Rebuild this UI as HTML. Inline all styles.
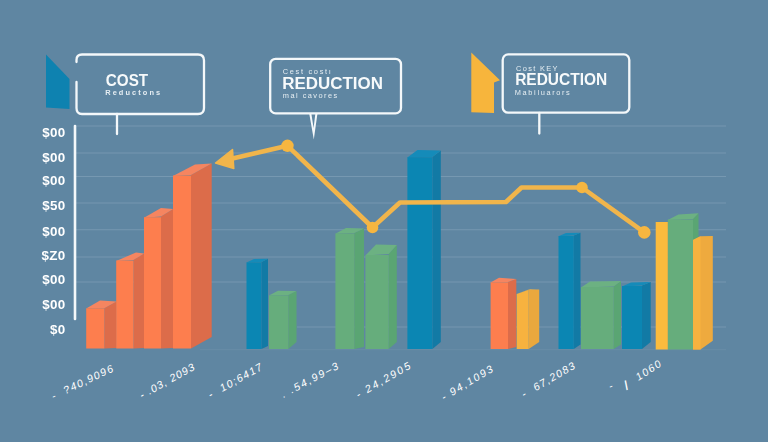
<!DOCTYPE html>
<html><head><meta charset="utf-8">
<style>
html,body{margin:0;padding:0;background:#5f86a2;}
body{width:768px;height:442px;overflow:hidden;font-family:"Liberation Sans",sans-serif;}
svg{display:block;filter:blur(0.55px);}
text{font-family:"Liberation Sans",sans-serif;fill:#fff;}
.yl{font-size:13.4px;font-weight:bold;fill:#f2f6f8;letter-spacing:0.3px;}
.xl{font-size:10.6px;fill:#cfe0ec;font-style:italic;}
.big{font-size:16px;font-weight:bold;fill:#f7fafb;}
.sm{font-size:7.4px;fill:#e6eef3;}
</style></head>
<body>
<svg width="768" height="442" viewBox="0 0 768 442">
<rect width="768" height="442" fill="#5f86a2"/>
<!-- gridlines -->
<g stroke="#86a5bb" stroke-width="1.1" opacity="0.6">
<line x1="76" y1="126" x2="726" y2="126"/>
<line x1="76" y1="153" x2="726" y2="153"/>
<line x1="76" y1="176.5" x2="726" y2="176.5"/>
<line x1="76" y1="203" x2="726" y2="203"/>
<line x1="76" y1="229.8" x2="726" y2="229.8"/>
<line x1="76" y1="257" x2="726" y2="257"/>
<line x1="76" y1="282" x2="726" y2="282"/>
<line x1="297" y1="327" x2="726" y2="327"/>
<line x1="200" y1="349.8" x2="726" y2="349.8" opacity="0.4"/>
</g>
<!-- y axis -->
<line x1="75" y1="126" x2="75" y2="319" stroke="#f4f8fa" stroke-width="2.6" stroke-linecap="round"/>
<!-- y labels -->
<g class="yl" text-anchor="end">
<text x="65.5" y="137">$00</text>
<text x="65.5" y="162">$00</text>
<text x="65.5" y="185">$00</text>
<text x="65.5" y="210">$50</text>
<text x="65.5" y="236">$00</text>
<text x="65.5" y="260.3">$Z0</text>
<text x="65.5" y="284.2">$00</text>
<text x="65.5" y="309.2">$00</text>
<text x="65.5" y="334">$0</text>
</g>

<!-- BARS -->
<g id="bars">
<!-- G1 orange -->
<g>
 <polygon points="104.4,308.3 116.5,301.5 116.5,348 104.4,348.5" fill="#dc6c4a"/>
 <polygon points="86.2,308.5 104.4,308.3 116.5,301.5 100,300.5" fill="#f58560"/>
 <rect x="86.2" y="308.3" width="18.2" height="40.2" fill="#fd7e4e"/>

 <polygon points="133.5,260 144.2,253.5 144.2,348 133.5,348.5" fill="#dc6c4a"/>
 <polygon points="116.2,261 133.5,260 144.2,253.5 136,252.5" fill="#f58560"/>
 <rect x="116.2" y="260.5" width="17.3" height="88" fill="#fd7e4e"/>

 <polygon points="161,216.5 173.2,209 173.2,348 161,348.5" fill="#dc6c4a"/>
 <polygon points="144,217.7 161,216.5 173.2,209 161,208" fill="#f58560"/>
 <rect x="144" y="217.2" width="17" height="131.3" fill="#fd7e4e"/>

 <polygon points="191,175 211.7,163.5 211.7,337 191,348.5" fill="#dc6c4a"/>
 <polygon points="173,176 191,175 211.7,163.5 195,164.6" fill="#f58560"/>
 <rect x="173" y="175.5" width="18" height="173" fill="#fd7e4e"/>
</g>
<!-- G2 blue + green -->
<g>
 <polygon points="261.4,262 268,258.8 268,346 261.4,349" fill="#127aa5"/>
 <polygon points="246.5,262.6 261.4,262 268,258.8 254,259" fill="#158bb9"/>
 <rect x="246.5" y="262.3" width="14.9" height="86.7" fill="#0b86b3"/>

 <polygon points="288.4,295 296.5,291 296.5,342 288.4,349" fill="#5aa573"/>
 <polygon points="269,295.6 288.4,295 296.5,291 278,290.8" fill="#6cb182"/>
 <rect x="269" y="295.3" width="19.4" height="53.7" fill="#66ad7c"/>
</g>
<!-- G3 green + green + big blue -->
<g>
 <polygon points="354.3,233 364,228.5 364,347 354.3,349" fill="#5aa573"/>
 <polygon points="335.4,233.8 354.3,233 364,228.5 346,228" fill="#6cb182"/>
 <rect x="335.4" y="233.4" width="18.9" height="115.6" fill="#66ad7c"/>

 <polygon points="388.7,254 396.8,245 396.8,342 388.7,349" fill="#5aa573"/>
 <polygon points="365.4,255.5 388.7,254 396.8,245 376,244.5" fill="#6cb182"/>
 <rect x="365.4" y="255" width="23.3" height="94" fill="#66ad7c"/>

 <polygon points="432.4,157 440.8,150.5 440.8,342 432.4,349" fill="#127aa5"/>
 <polygon points="407.4,157.5 432.4,157 440.8,150.5 417.5,150" fill="#158bb9"/>
 <rect x="407.4" y="157.2" width="25" height="191.8" fill="#0b86b3"/>
</g>
<!-- G4 orange + yellow -->
<g>
 <polygon points="508,282 516.3,279 516.3,347 508,349" fill="#dc6c4a"/>
 <polygon points="490.6,282.6 508,282 516.3,279 499,277.7" fill="#f58560"/>
 <rect x="490.6" y="282.3" width="17.4" height="66.7" fill="#fd7e4e"/>

 <polygon points="528.7,290 539.2,289.5 539.2,342 528.7,349" fill="#e9a83e"/>
 <polygon points="516.7,294 528.7,289.8 539.2,289.5 530,289" fill="#f3b348"/>
 <polygon points="516.7,294 528.7,289.8 528.7,349 516.7,349" fill="#f7b23f"/>
</g>
<!-- G5 blue, green, blue -->
<g>
 <polygon points="573.8,235.5 580.5,232.8 580.5,344.6 573.8,349" fill="#127aa5"/>
 <polygon points="558.5,236.3 573.8,235.5 580.5,232.8 566,233" fill="#158bb9"/>
 <rect x="558.5" y="236" width="15.3" height="113" fill="#0b86b3"/>

 <polygon points="613.7,286.5 621,281 621,344.6 613.7,349" fill="#5aa573"/>
 <polygon points="581,287.5 613.7,286.5 621,281 590,281.5" fill="#6cb182"/>
 <rect x="581" y="287" width="32.7" height="62" fill="#66ad7c"/>

 <polygon points="642,285.5 650.7,282 650.7,342 642,349" fill="#127aa5"/>
 <polygon points="622,286.5 642,285.5 650.7,282 631,282.5" fill="#158bb9"/>
 <rect x="622" y="286" width="20" height="63" fill="#0b86b3"/>
</g>
<!-- G6 yellow green yellow -->
<g>
 <polygon points="693,219 698.5,213.3 698.5,344 693,349.5" fill="#5aa573"/>
 <polygon points="667.8,220 693,219 698.5,213.3 678.4,214.6" fill="#6cb182"/>
 <rect x="667.8" y="219.5" width="25.2" height="130" fill="#66ad7c"/>
 <rect x="655.7" y="222" width="12.1" height="127.5" fill="#fbbb3d"/>
 <polygon points="693,240 700.5,236.2 712.8,236 712.8,340.7 700.5,349.5 693,349.5" fill="#eeaa3e"/>
 <polygon points="693,240 700.5,236.2 700.5,349.5 693,349.5" fill="#f7b23f"/>
</g>
</g>

<!-- trend line -->
<g fill="none" stroke="#f1b54b" stroke-width="4.6" stroke-linejoin="round" stroke-linecap="round">
<polyline points="226,160 287.5,145.8 372.5,227.5 400,202.5 506,202 521.5,187.5 582,187.5 644.3,232.4"/>
</g>
<polygon points="215.5,163 232.5,149.5 233.8,168.5" fill="#f1b54b" stroke="#f1b54b" stroke-width="1.5" stroke-linejoin="round"/>
<g fill="#f6b640">
<circle cx="287.5" cy="145.8" r="6.2"/>
<circle cx="372.5" cy="227.5" r="5.8"/>
<circle cx="582" cy="187.5" r="5.8"/>
<circle cx="644.3" cy="232.4" r="6.3"/>
</g>

<!-- top-left blue flag -->
<polygon points="46,54.5 69.5,79 69.5,109 46,107.5" fill="#0e82b0"/>
<!-- yellow flag -->
<polygon points="471.3,52.5 500,80.3 494,82.5 494,113 471.3,112.3" fill="#f7b53c"/>

<!-- callout boxes -->
<g fill="none" stroke="#f4f8fa" stroke-width="2.3" stroke-linecap="round">
 <path d="M76.5,62 V60 Q76.5,54.5 82,54.5 H198 Q204,54.5 204,60.5 V108 Q204,114 198,114 H82 Q76.5,114 76.5,108 V82"/>
 <line x1="117" y1="114" x2="117" y2="134"/>
 <rect x="270.2" y="58.8" width="130.8" height="54.6" rx="5.5"/>
 <rect x="502.7" y="54.4" width="126.6" height="58.3" rx="5.5"/>
 <line x1="539.3" y1="113" x2="539.3" y2="133.5"/>
</g>
<path d="M309.3,114 L313.8,139.5 L317.4,114 L315.3,114 L313.6,128 L311.4,114 Z" fill="#f4f8fa"/>

<!-- callout text -->
<text class="big" x="105.8" y="85.9" textLength="42.3" lengthAdjust="spacingAndGlyphs">COST</text>
<text class="sm" x="105.2" y="95.2" textLength="55" lengthAdjust="spacing" font-weight="bold">Reductons</text>

<text class="sm" x="282.8" y="73.8" textLength="48" lengthAdjust="spacing">Cest costı</text>
<text class="big" x="282.3" y="88.8" textLength="100.6" lengthAdjust="spacingAndGlyphs">REDUCTION</text>
<text class="sm" x="282.8" y="97.9" textLength="54.5" lengthAdjust="spacing">mal cavores</text>

<text class="sm" x="516" y="71.1" textLength="41.5" lengthAdjust="spacing">Cost KEY</text>
<text class="big" x="515.2" y="85.3" textLength="92" lengthAdjust="spacingAndGlyphs">REDUCTION</text>
<text class="sm" x="514.8" y="95.3" textLength="55" lengthAdjust="spacing">Mabiluarors</text>

<!-- x labels -->
<g class="xl" lengthAdjust="spacing" xml:space="preserve">
<text transform="translate(53.5,400) rotate(-25.5)" textLength="67" xml:space="preserve">-  ?40,9096</text>
<text transform="translate(142,399) rotate(-29)" textLength="61" xml:space="preserve">- .03, 2093</text>
<text transform="translate(210.5,398.5) rotate(-29)" textLength="60" xml:space="preserve">-  10;6417</text>
<text transform="translate(283.5,398) rotate(-28)" textLength="63" xml:space="preserve">. .54,99–3</text>
<text transform="translate(358.5,398.5) rotate(-30)" textLength="61" xml:space="preserve">- 24,2905</text>
<text transform="translate(444,401) rotate(-31)" textLength="58" xml:space="preserve">- 94,1093</text>
<text transform="translate(524,398) rotate(-30)" textLength="60" xml:space="preserve">-  67,2083</text>
<text transform="translate(610.5,390) rotate(-25)">-</text><text transform="translate(626,390.5) rotate(-22)" font-size="14">I</text><text transform="translate(638.5,381) rotate(-33)" textLength="28">1060</text>
</g>
</svg>
</body></html>
